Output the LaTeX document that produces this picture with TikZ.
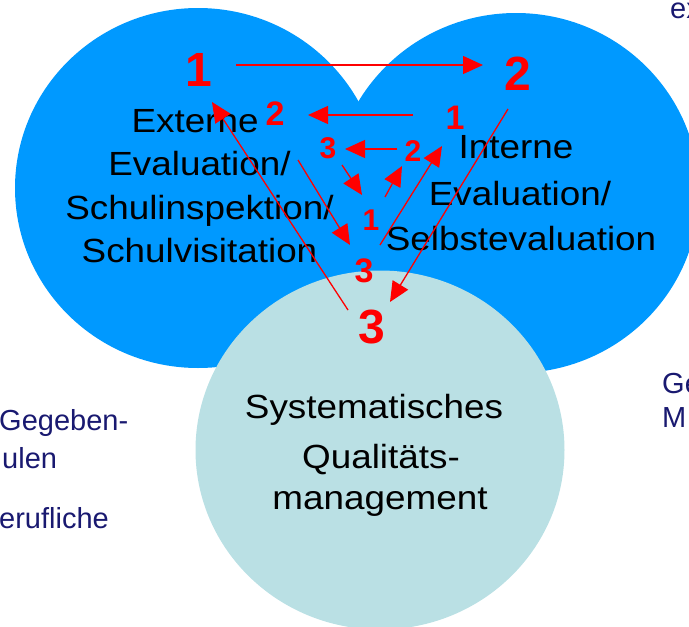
\documentclass[tikz,border=0pt]{standalone}
\usepackage{fontspec}
\setmainfont{Liberation Sans}[FakeStretch=1.1]
\newfontfamily\plainfont{Liberation Sans}
\usetikzlibrary{arrows.meta}

\definecolor{circblue}{RGB}{0,153,255}
\definecolor{circlight}{RGB}{186,224,228}
\definecolor{navytext}{RGB}{25,25,112}
\definecolor{arrred}{RGB}{255,0,0}

\tikzset{
  lbl/.style={inner sep=0pt, anchor=base, font=\fontsize{33.5}{33.5}\selectfont},
  numbig/.style={inner sep=0pt, text=arrred, font=\plainfont\bfseries\fontsize{48}{48}\selectfont},
  nummid/.style={inner sep=0pt, text=arrred, font=\plainfont\bfseries\fontsize{34}{34}\selectfont},
  numsmall/.style={inner sep=0pt, text=arrred, font=\plainfont\bfseries\fontsize{30}{30}\selectfont},
  side/.style={inner sep=0pt, anchor=base west, text=navytext, font=\plainfont\fontsize{29}{29}\selectfont},
  arr/.style={draw=arrred, line width=1.3pt, -{Triangle[length=20pt,width=18pt]}}
}

\begin{document}
\begin{tikzpicture}[x=1pt,y=-1pt]

  % page frame
  \useasboundingbox (0,0) rectangle (689,627);
  \clip (0,0) rectangle (689,627);

  % the three circles
  \fill [circblue] (198,188) ellipse [x radius=183, y radius=180];
  \fill [circblue] (516,193) ellipse [x radius=183, y radius=180];
  \fill [circlight] (380,450) ellipse [x radius=184.5, y radius=179.5];

  % texts in the circles
  \node [lbl] (ext1) at (195,132) {Externe};
  \node [lbl] (ext2) at (199.5,175) {Evaluation/};
  \node [lbl] (ext3) at (199.5,219) {Schulinspektion/};
  \node [lbl] (ext4) at (199.5,262) {Schulvisitation};

  \node [lbl] (int1) at (516,158) {Interne};
  \node [lbl] (int2) at (520,205) {Evaluation/};
  \node [lbl] (int3) at (521,250) {Selbstevaluation};

  \node [lbl] (sqm1) at (374,418) {Systematisches};
  \node [lbl] (sqm2) at (381,468) {Qualitäts-};
  \node [lbl] (sqm3) at (380,509) {management};

  % texts at the page border
  \node [side] (lft1) at (-1,430) {Gegeben-};
  \node [side] (lft2) at (2,468) {ulen};
  \node [side] (lft3) at (-1,528) {erufliche};
  \node [side] (rgt1) at (662,393) {Ge};
  \node [side] (rgt2) at (662,427) {M};
  \node [side] (rgt3) at (670,18) {ex};

  % red step numbers
  \node [numbig] (one)   at (199,70)  {1};
  \node [numbig] (two)   at (518,74)  {2};
  \node [numbig] (three) at (372,327) {3};
  \node [nummid] (twoa)  at (275,114) {2};
  \node [nummid] (onea)  at (455,118) {1};
  \node [numsmall] (threeb) at (328,148) {3};
  \node [numsmall] (twob)   at (413,151) {2};
  \node [numsmall] (oneb)   at (371,220) {1};
  \node [nummid] (threea) at (364,271) {3};

  % arrow ends
  \coordinate (a1) at (236,65);  \coordinate (a2) at (483,65);
  \coordinate (b1) at (413,115); \coordinate (b2) at (308,115);
  \coordinate (c1) at (397,149); \coordinate (c2) at (345,149);
  \coordinate (d1) at (342,165); \coordinate (d2) at (362,195);
  \coordinate (e1) at (385,197); \coordinate (e2) at (402,166);
  \coordinate (f1) at (380,245); \coordinate (f2) at (442,146);
  \coordinate (g1) at (298,160); \coordinate (g2) at (350,245);
  \coordinate (h1) at (508,109); \coordinate (h2) at (390,302);
  \coordinate (i1) at (348,310); \coordinate (i2) at (212,102);

  % arrows
  \foreach \s/\t in {a1/a2,b1/b2,c1/c2,d1/d2,e1/e2,f1/f2,g1/g2,h1/h2,i1/i2}
    \draw [arr] (\s) -- (\t);

\end{tikzpicture}
\end{document}
